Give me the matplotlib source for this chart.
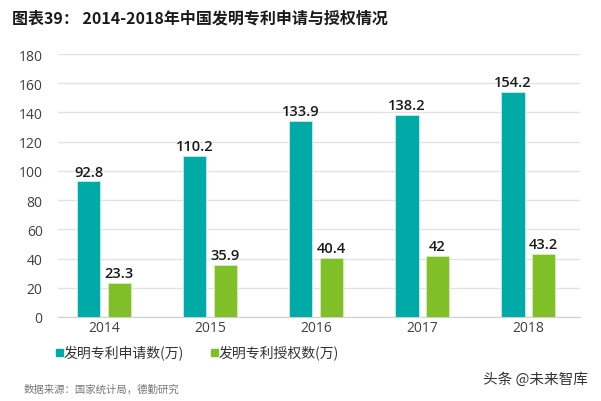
import numpy as np
import matplotlib
matplotlib.use("Agg")
import matplotlib.pyplot as plt
from matplotlib.patches import Rectangle

plt.rcParams['font.family'] = ['Noto Sans CJK SC', 'DejaVu Sans']

# data
years = ['2014', '2015', '2016', '2017', '2018']
applications = [92.8, 110.2, 133.9, 138.2, 154.2]
grants = [23.3, 35.9, 40.4, 42, 43.2]
series_names = ['发明专利申请数(万)', '发明专利授权数(万)']
title = '图表39： 2014-2018年中国发明专利申请与授权情况'
source = '数据来源：国家统计局，德勤研究'
watermark = '头条 @未来智库'

TEAL = '#00aaa6'
GREEN = '#80bf28'
NUM_FONT = ['Open Sans', 'DejaVu Sans']

fig = plt.figure(figsize=(6.01, 4.02), dpi=100)
ax = fig.add_axes([0.0965, 0.209, 0.869, 0.654])

x = np.arange(len(years))
w = 0.22
off = 0.145
b1 = ax.bar(x - off, applications, w, color=TEAL, edgecolor='#c8ecea', linewidth=0.6, zorder=3)
b2 = ax.bar(x + off, grants, w, color=GREEN, edgecolor='#d8eec0', linewidth=0.6, zorder=3)

for bars, vals in ((b1, applications), (b2, grants)):
    for r, v in zip(bars, vals):
        ax.text(r.get_x() + r.get_width() / 2, v + 2, f'{v:g}', ha='center', va='bottom',
                fontsize=10.5, fontweight='semibold', color='#1a1a1a', family=NUM_FONT)

ax.set_xlim(-0.434, 4.49)
ax.set_ylim(0, 180)
ax.set_yticks(np.arange(0, 181, 20))
ax.yaxis.grid(True, color='#e3e3e3', linewidth=1, zorder=0)
ax.set_axisbelow(True)
ax.set_xticks(x)
ax.set_xticklabels(years)
for s in ('top', 'right', 'left'):
    ax.spines[s].set_visible(False)
ax.spines['bottom'].set_color('#d0d0d0')
ax.tick_params(axis='both', length=0, labelsize=10, labelcolor='#404040')
ax.tick_params(axis='y', pad=11)
ax.tick_params(axis='x', pad=2)
for t in ax.get_xticklabels() + ax.get_yticklabels():
    t.set_family(NUM_FONT)

fig.text(0.02, 0.955, title, fontsize=11.5, fontweight='bold', color='#1a1a1a', va='center')

# legend
for i, (name, col) in enumerate(zip(series_names, [TEAL, GREEN])):
    x0 = 0.093 + i * 0.258
    fig.patches.append(Rectangle((x0, 0.113), 0.011, 0.017, transform=fig.transFigure,
                                 color=col, figure=fig))
    fig.text(x0 + 0.013, 0.12, name, fontsize=10, color='#333333', va='center')

fig.text(0.04, 0.03, source, fontsize=7.5, color='#777777', va='center')
fig.text(0.803, 0.055, watermark, fontsize=10.5, color='#333333', va='center')

fig.savefig('out.png', dpi=100)
